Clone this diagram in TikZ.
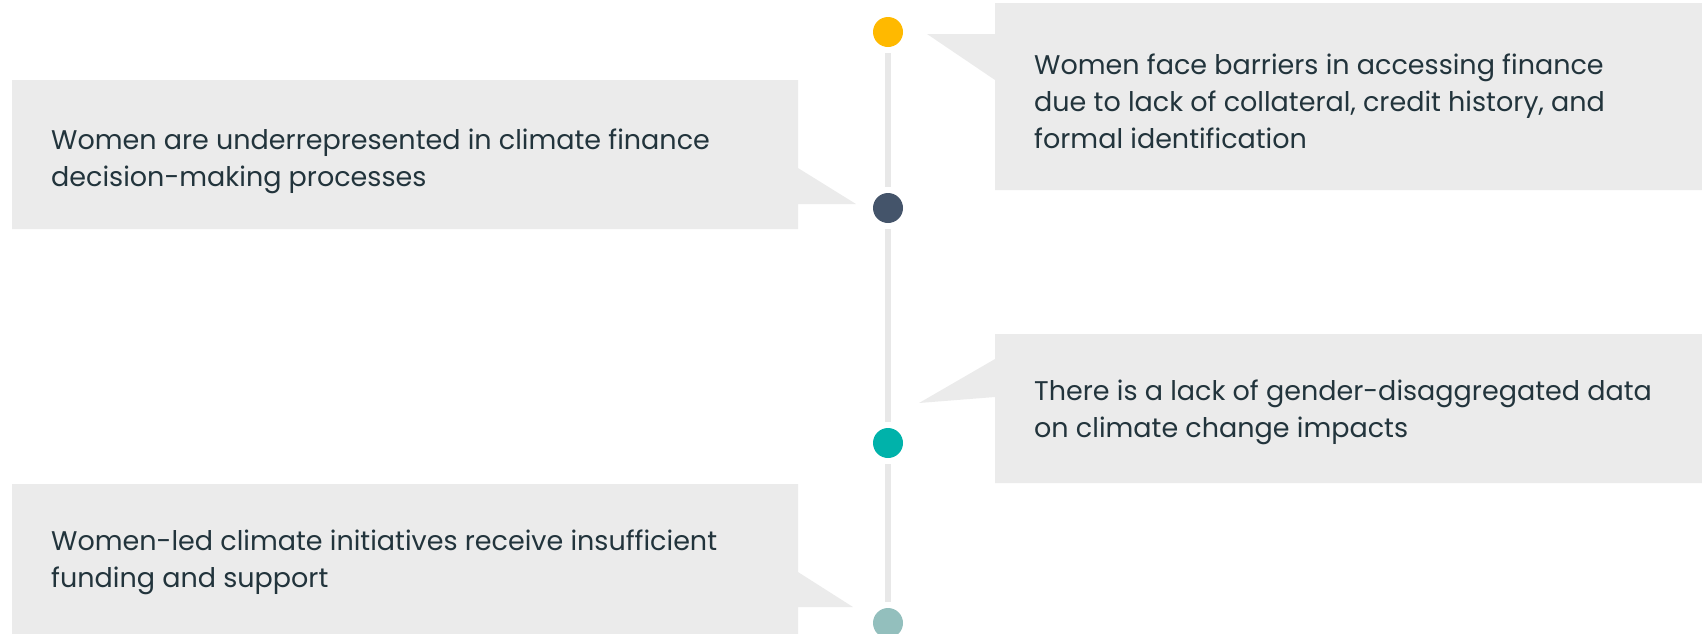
\documentclass[tikz,border=0pt]{standalone}
\usepackage{fontspec}
\setmainfont{Poppins}
\definecolor{boxgrey}{HTML}{EBEBEB}
\definecolor{linegrey}{HTML}{E8E8E8}
\definecolor{cyellow}{HTML}{FFB900}
\definecolor{cdark}{HTML}{44546A}
\definecolor{cteal}{HTML}{00B2AA}
\definecolor{cpale}{HTML}{93BFBD}
\definecolor{txt}{HTML}{22343C}
\tikzset{
  callout/.style={fill=boxgrey, draw=none},
  dot/.style={circle, minimum size=30pt, inner sep=0pt, draw=none},
  spine/.style={draw=linegrey, line width=5.5pt, shorten <=6pt, shorten >=6pt},
  label/.style={anchor=west, inner sep=0pt, align=left, text=txt,
    font=\fontsize{27}{37}\selectfont}
}
\begin{document}
\begin{tikzpicture}[x=1pt, y=-1pt]
\useasboundingbox (0,0) rectangle (1702,633);
% callout shapes
\path[callout] (995,3) -- (1702,3) -- (1702,190) -- (995,190) -- (995,80) -- (927,34) -- (995,34) -- cycle;
\path[callout] (12,80) -- (798,80) -- (798,168) -- (856,204) -- (798,204) -- (798,229) -- (12,229) -- cycle;
\path[callout] (995,334) -- (1702,334) -- (1702,483) -- (995,483) -- (995,397) -- (919,403) -- (995,359) -- cycle;
\path[callout] (12,484) -- (798,484) -- (798,572) -- (853,607) -- (798,607) -- (798,640) -- (12,640) -- cycle;
% dots
\node[dot, fill=cyellow] (d1) at (888,32) {};
\node[dot, fill=cdark] (d2) at (888,208) {};
\node[dot, fill=cteal] (d3) at (888,443) {};
\node[dot, fill=cpale] (d4) at (888,623) {};
% spine
\draw[spine] (d1) -- (d2);
\draw[spine] (d2) -- (d3);
\draw[spine] (d3) -- (d4);
% texts
\node[label] (t1) at (1034,101) {Women face barriers in accessing finance\\due to lack of collateral, credit history, and\\formal identification};
\node[label] (t2) at (51,161) {Women are underrepresented in climate finance\\decision-making processes};
\node[label] (t3) at (1034,412) {There is a lack of gender-disaggregated data\\on climate change impacts};
\node[label] (t4) at (51,562) {Women-led climate initiatives receive insufficient\\funding and support};
\end{tikzpicture}
\end{document}
